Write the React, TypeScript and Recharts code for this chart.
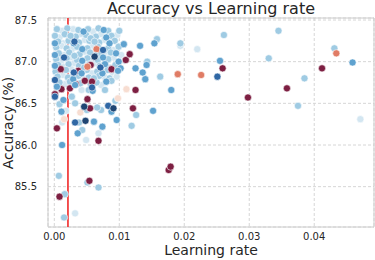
import { ScatterChart, Scatter, XAxis, YAxis, CartesianGrid, ReferenceLine, ReferenceArea } from 'recharts';

// [learning rate, accuracy] pairs grouped by hue shade
const veryLight = [
  [0.0012, 87.37], [0.0029, 87.39], [0.006, 87.36], [0.0008, 87.29], [0.0041, 87.33], [0.0072, 87.33], [0.0097, 87.32],
  [0.0014, 87.22], [0.0047, 87.26], [0.0077, 87.26], [0.0011, 87.19], [0.0027, 87.15], [0.0059, 87.19], [0.0091, 87.14],
  [0.0015, 87.08], [0.0047, 87.12], [0.0079, 87.12], [0.0103, 87.08], [0.0011, 87.01], [0.0027, 87.05], [0.0059, 87.0],
  [0.0091, 87.05], [0.0108, 87.01], [0.0014, 86.94], [0.003, 86.98], [0.0062, 86.98], [0.0086, 86.93], [0.001, 86.86],
  [0.0026, 86.91], [0.0058, 86.86], [0.009, 86.87], [0.0013, 86.84], [0.0045, 86.8], [0.0077, 86.82], [0.0096, 86.82],
  [0.0016, 86.73], [0.0048, 86.77], [0.0072, 86.72], [0.0018, 86.41], [0.0042, 86.66],
  [0.022, 87.15], [0.0194, 87.19], [0.0471, 86.31], [0.0068, 86.14], [0.0049, 86.06], [0.0012, 86.27], [0.0032, 85.18],
];

const lightBlue = [
  [0.0004, 87.39], [0.002, 87.4], [0.0037, 87.38], [0.0052, 87.39], [0.0068, 87.4], [0.0083, 87.37],
  [0.0001, 87.31], [0.0016, 87.33], [0.0033, 87.3], [0.0049, 87.32], [0.0064, 87.3], [0.0088, 87.31],
  [0.0006, 87.24], [0.0022, 87.25], [0.0038, 87.23], [0.0054, 87.25], [0.0069, 87.23], [0.0093, 87.25],
  [0.0003, 87.17], [0.0019, 87.16], [0.0035, 87.18], [0.0051, 87.16], [0.0067, 87.18], [0.0083, 87.16], [0.0099, 87.18],
  [0.0007, 87.1], [0.0023, 87.11], [0.0039, 87.09], [0.0055, 87.11], [0.0071, 87.09], [0.0087, 87.11],
  [0.0003, 87.03], [0.0019, 87.04], [0.0035, 87.02], [0.0051, 87.04], [0.0067, 87.02], [0.0083, 87.03],
  [0.0006, 86.96], [0.0022, 86.97], [0.0038, 86.95], [0.0054, 86.97], [0.007, 86.95], [0.0094, 86.96],
  [0.0002, 86.88], [0.0018, 86.9], [0.0034, 86.88], [0.005, 86.9], [0.0066, 86.88], [0.0082, 86.9],
  [0.0005, 86.82], [0.0021, 86.81], [0.0037, 86.83], [0.0053, 86.81], [0.0069, 86.83], [0.0085, 86.8],
  [0.0008, 86.75], [0.0024, 86.76], [0.004, 86.74], [0.0065, 86.75], [0.0088, 86.77],
  [0.0025, 87.31], [0.0056, 87.28], [0.0062, 87.24], [0.0031, 87.07], [0.0046, 86.93],
  [0.0061, 86.8], [0.0056, 86.73], [0.0032, 86.5], [0.0072, 86.42],
  [0.0008, 86.49], [0.0027, 86.58], [0.005, 86.42], [0.0066, 86.45], [0.0078, 86.66], [0.0094, 86.53], [0.0053, 86.66],
  [0.0261, 87.32], [0.0345, 87.37], [0.0431, 87.16], [0.033, 87.04], [0.0385, 86.8], [0.0375, 86.47], [0.0194, 87.22],
  [0.0163, 86.82], [0.0158, 87.27], [0.0143, 87.0], [0.0126, 86.36], [0.0119, 86.23], [0.0043, 86.18], [0.0038, 86.27],
  [0.0051, 85.55], [0.0068, 85.49], [0.0007, 85.63], [0.0016, 85.41], [0.0015, 85.13], [0.01, 87.37],
];

const midBlue = [
  [0.0045, 87.36], [0.0076, 87.38], [0.008, 87.29], [0.0001, 87.22], [0.003, 87.22], [0.0043, 87.15],
  [0.0085, 87.22], [0.0107, 87.21], [0.0001, 87.08], [0.0063, 87.07], [0.0042, 86.86],
  [0.0095, 87.1], [0.0043, 87.01], [0.0075, 87.05], [0.0099, 87.0], [0.0001, 86.95], [0.0078, 86.97],
  [0.0102, 86.92], [0.0074, 86.86], [0.0098, 86.89], [0.0029, 86.79], [0.0032, 86.72],
  [0.008, 86.76], [0.0004, 86.7], [0.0014, 86.54], [0.0011, 86.4], [0.0059, 86.65], [0.0088, 86.4],
  [0.0459, 86.99], [0.0255, 87.01], [0.018, 86.66], [0.0154, 87.22], [0.0152, 86.41], [0.0142, 86.96], [0.014, 86.79],
  [0.0132, 87.19], [0.0125, 86.92], [0.0136, 86.87], [0.0096, 86.3], [0.0074, 86.22], [0.0036, 86.14], [0.0061, 86.28],
  [0.0012, 86.0],
];

const darkBlue = [
  [0.0031, 87.24], [0.0075, 87.14], [0.0015, 87.05], [0.0071, 86.93], [0.003, 86.87], [0.0001, 86.78], [0.0001, 86.58],
  [0.0058, 86.69], [0.0032, 86.27], [0.0251, 86.82], [0.0083, 86.47],
];

const navy = [[0.0048, 86.29], [0.0046, 86.46], [0.0091, 86.44], [0.0062, 87.06]];

const peach = [[0.004, 86.39], [0.0015, 86.31], [0.0111, 86.67], [0.0098, 86.56]];

const salmon = [[0.019, 86.85], [0.0226, 86.84], [0.0434, 87.1], [0.0065, 87.15], [0.0051, 86.94]];

const darkRed = [
  [0.001, 86.91], [0.0011, 86.67], [0.0001, 86.61], [0.0024, 86.68], [0.0033, 86.73], [0.0037, 86.89], [0.0047, 86.77],
  [0.0051, 86.55], [0.0056, 86.96], [0.0058, 86.76], [0.011, 87.02], [0.0116, 87.09], [0.0088, 86.91], [0.0055, 86.44],
  [0.0068, 86.05], [0.0004, 86.2], [0.0008, 85.38], [0.0054, 85.57], [0.0125, 86.66], [0.0121, 86.44], [0.0176, 85.7],
  [0.0179, 85.74], [0.0259, 86.92], [0.0298, 86.57], [0.0358, 86.68], [0.0412, 86.92],
];

const xTicks = [0, 0.01, 0.02, 0.03, 0.04];
const yTicks = [85.5, 86.0, 86.5, 87.0, 87.5];
const bestLr = 0.0021;

const xDomain = [-0.00097, 0.0492];
const yDomain = [85.016, 87.524];

// pale points underneath, reds in the middle, stronger blues on top
const groups = [
  { name: 'veryLight', pts: veryLight, color: '#d3e6f1' },
  { name: 'lightBlue', pts: lightBlue, color: '#9fcbe3' },
  { name: 'darkRed', pts: darkRed, color: '#7d1f42' },
  { name: 'salmon', pts: salmon, color: '#e07c65' },
  { name: 'peach', pts: peach, color: '#f7ddd1' },
  { name: 'midBlue', pts: midBlue, color: '#5fa2cf' },
  { name: 'darkBlue', pts: darkBlue, color: '#2f67a4' },
  { name: 'navy', pts: navy, color: '#1f4573' },
];

const tickStyle = { fontSize: 10, fill: '#262626', fontFamily: 'DejaVu Sans' };

const dot = (color: string) => (p: any) => (
  <circle cx={p.cx} cy={p.cy} r={3.6} fill={color} stroke="#fff" strokeWidth={0.6} />
);

export default function App() {
  return (
    <div style={{ position: 'absolute', left: 0, top: 0, width: 375, height: 260, background: '#fff', fontFamily: 'DejaVu Sans' }}>
      <ScatterChart width={375} height={260} margin={{ top: 18, right: 1, left: 0, bottom: 0 }}>
        <CartesianGrid stroke="#d6d6d6" strokeDasharray="3 2" />
        <XAxis
          type="number"
          dataKey="lr"
          domain={xDomain}
          ticks={xTicks}
          allowDataOverflow
          height={33}
          tickSize={0}
          tickMargin={6}
          tickLine={false}
          axisLine={false}
          tick={tickStyle}
          tickFormatter={(v: number) => v.toFixed(2)}
        />
        <YAxis
          type="number"
          dataKey="acc"
          domain={yDomain}
          ticks={yTicks}
          allowDataOverflow
          width={48}
          tickSize={0}
          tickMargin={11}
          tickLine={false}
          axisLine={false}
          tick={tickStyle}
          tickFormatter={(v: number) => v.toFixed(1)}
        />
        <ReferenceArea x1={xDomain[0]} x2={xDomain[1]} y1={yDomain[0]} y2={yDomain[1]} fill="none" stroke="#cccccc" strokeWidth={1} ifOverflow="visible" />
        {groups.map((g) => (
          <Scatter
            key={g.name}
            data={g.pts.map(([lr, acc]) => ({ lr, acc }))}
            shape={dot(g.color)}
            isAnimationActive={false}
          />
        ))}
        <ReferenceLine x={bestLr} stroke="#f24040" strokeWidth={1.8} />
      </ScatterChart>
      <svg width={375} height={260} style={{ position: 'absolute', left: 0, top: 0, pointerEvents: 'none' }}>
        <text x={211} y={14} textAnchor="middle" fontSize={16} fill="#262626" fontFamily="DejaVu Sans">
          Accuracy vs Learning rate
        </text>
        <text x={211} y={255} textAnchor="middle" fontSize={14} fill="#262626" fontFamily="DejaVu Sans">
          Learning rate
        </text>
        <text transform="translate(12.7,123) rotate(-90)" textAnchor="middle" fontSize={14} fill="#262626" fontFamily="DejaVu Sans">
          Accuracy (%)
        </text>
      </svg>
    </div>
  );
}
